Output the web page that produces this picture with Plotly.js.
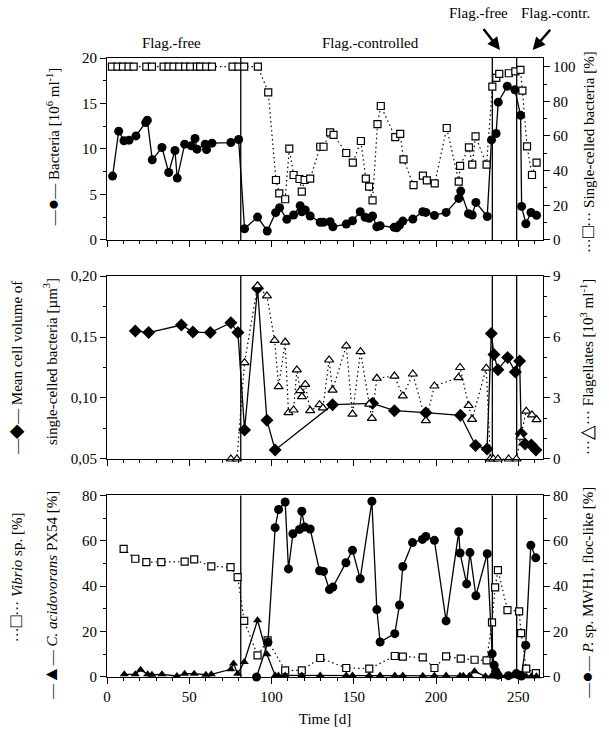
<!DOCTYPE html>
<html><head><meta charset="utf-8">
<script src="https://cdn.plot.ly/plotly-3.0.1.min.js"></script>
<style>html,body{margin:0;padding:0;background:#fff}</style>
</head><body><div id="chart" style="width:609px;height:740px"></div>
<script>
// ---------- Panel 1: Bacteria (left) and single-celled bacteria (right) ----------
const bactDays = [3.4, 7.1, 10.3, 13.4, 17.6, 23.5, 24.5, 27.5, 33.4, 37.5, 41.3, 42.7, 47.2, 51.2, 53.5, 54.7, 59.7, 60.5, 63.8, 75.3, 80.0, 83.6, 91.5, 97.4, 102.5, 104.9, 109.3, 113.4, 117.4, 118.4, 120.5, 123.5, 129.6, 131.6, 135.6, 137.3, 145.4, 149.2, 153.9, 156.9, 159.3, 161.4, 164.0, 166.0, 174.5, 176.1, 177.8, 179.8, 185.9, 191.9, 193.8, 199.0, 206.1, 213.8, 215.0, 219.7, 222.0, 224.2, 231.1, 233.7, 236.5, 237.8, 243.3, 247.9, 251.4, 252.0, 254.6, 257.7, 261.1];
const bacteria = [7.02, 11.96, 10.9, 10.97, 11.44, 12.9, 13.16, 8.81, 10.16, 7.42, 9.84, 6.8, 10.53, 10.35, 11.15, 9.98, 10.53, 9.95, 10.64, 10.71, 11.04, 1.24, 2.52, 0.99, 3.0, 3.55, 2.27, 2.74, 3.77, 3.1, 3.29, 2.63, 1.94, 1.94, 2.01, 1.46, 1.75, 2.12, 3.1, 2.49, 2.38, 2.63, 1.46, 1.57, 1.39, 1.35, 1.65, 2.08, 2.3, 3.1, 3.03, 2.7, 3.03, 4.57, 5.37, 2.89, 2.75, 4.13, 2.58, 11.0, 11.7, 15.15, 16.9, 16.5, 13.7, 3.69, 1.78, 3.02, 2.71];

const singleDays = [3.0, 6.4, 9.7, 13.1, 16.2, 23.9, 27.3, 34.4, 37.4, 40.4, 43.9, 47.5, 50.6, 54.6, 56.6, 60.3, 63.8, 76.3, 79.9, 83.4, 91.7, 98.0, 102.7, 104.7, 108.3, 110.8, 113.4, 117.0, 118.4, 120.1, 123.5, 129.6, 131.6, 135.6, 137.7, 145.4, 149.4, 154.3, 157.3, 159.3, 161.4, 164.4, 166.4, 175.2, 178.2, 180.2, 186.3, 192.0, 194.4, 199.2, 206.5, 213.8, 214.6, 220.0, 222.0, 224.0, 230.7, 234.2, 236.6, 238.4, 244.2, 248.2, 251.3, 252.5, 255.3, 258.3, 261.1];
const singleCelled = [100, 100, 100, 100, 100, 100, 100, 100, 100, 100, 100, 100, 100, 100, 100, 100, 100, 100, 100, 100, 100, 85.2, 34.6, 26.9, 23.5, 52.7, 37.5, 35.2, 27.9, 34.6, 35.4, 53.8, 53.8, 62.1, 60.6, 50.2, 44.6, 57.1, 35.4, 30.8, 22.9, 66.9, 77.3, 59.4, 61.2, 46.5, 31.7, 37.1, 34.4, 32.7, 64.6, 33.7, 42.8, 53.4, 43.5, 59.8, 43.5, 88.5, 93.5, 95.8, 96.2, 97.3, 98.1, 86.2, 54.0, 37.5, 44.6];

// ---------- Panel 2: Mean cell volume (left) and flagellates (right) ----------
const mcvDays = [17.2, 25.3, 45.2, 52.2, 62.8, 75.3, 79.6, 83.6, 91.5, 97.2, 102.2, 137.1, 161.4, 174.7, 193.8, 214.8, 224.0, 231.0, 233.6, 235.2, 237.6, 243.5, 248.2, 250.8, 251.8, 254.1, 257.9, 260.7];
const meanCellVolume = [0.155, 0.1536, 0.1598, 0.154, 0.1536, 0.1617, 0.1536, 0.0738, 0.19, 0.0817, 0.0574, 0.0945, 0.0956, 0.0896, 0.088, 0.0858, 0.061, 0.0582, 0.1528, 0.1356, 0.1232, 0.1331, 0.1213, 0.1303, 0.0706, 0.0623, 0.0615, 0.0574];

const flagDays = [75.3, 79.0, 83.6, 91.5, 97.2, 101.9, 104.3, 108.3, 110.3, 113.4, 115.4, 117.4, 118.5, 120.5, 123.5, 129.2, 131.2, 135.0, 137.1, 145.4, 149.2, 154.1, 159.4, 161.0, 164.0, 174.7, 179.8, 185.9, 193.8, 199.0, 213.6, 214.6, 219.8, 221.9, 230.5, 233.0, 234.8, 237.6, 244.1, 248.9, 251.3, 254.8, 258.3, 261.1];
const flagellates = [0, 0, 4.74, 8.52, 8.02, 5.83, 3.56, 5.75, 2.28, 2.41, 4.38, 3.36, 3.07, 3.67, 2.38, 2.67, 2.51, 4.87, 3.39, 5.56, 2.21, 5.28, 2.7, 2.0, 3.97, 4.08, 3.1, 4.18, 1.89, 3.59, 4.0, 4.5, 2.63, 1.95, 4.47, 0, 0, 0, 0, 0, 1.07, 2.35, 2.17, 1.94];

// ---------- Panel 3: Vibrio, C. acidovorans (left) and P. sp. MWH1 (right) ----------
const vibrioDays = [10.1, 17.2, 23.9, 33.0, 47.2, 53.0, 63.4, 75.1, 79.4, 83.4, 91.5, 97.6, 108.3, 118.4, 129.6, 145.4, 159.4, 174.9, 179.8, 191.9, 199.0, 206.1, 215.0, 223.4, 230.7, 234.0, 235.9, 237.6, 243.4, 250.5, 251.7, 254.8, 260.7];
const vibrio = [56.4, 52.1, 50.6, 50.6, 50.8, 51.8, 48.7, 48.4, 44.0, 24.7, 9.5, 16.1, 2.94, 2.94, 8.37, 3.96, 3.67, 9.25, 8.95, 8.66, 3.96, 9.1, 8.07, 7.6, 7.3, 24.1, 39.5, 47.1, 29.5, 28.9, 19.3, 3.65, 1.75];

const cacidDays = [10.5, 17.2, 20.4, 24.7, 27.3, 33.4, 42.5, 47.2, 53.0, 60.1, 63.4, 75.3, 76.9, 79.4, 83.4, 91.5, 97.2, 102.2, 104.2, 108.3, 118.4, 129.6, 145.4, 149.2, 159.4, 166.0, 174.9, 179.8, 191.9, 199.0, 206.1, 214.6, 216.6, 220.3, 223.4, 230.0, 233.6, 235.9, 237.6, 244.0, 248.6, 251.7, 254.8, 257.9, 261.0];
const cAcidovorans = [1.17, 1.17, 3.2, 1.17, 1.0, 1.17, 0.44, 1.47, 1.47, 1.0, 1.17, 3.4, 5.9, 1.47, 6.6, 25.0, 10.0, 0.7, 0.7, 0.7, 0.7, 0.7, 0.7, 0.7, 0.7, 0.7, 0.7, 0.7, 0.5, 0.5, 0.7, 0.5, 0.5, 0.5, 2.5, 0.3, 0.3, 0.3, 0.3, 0.3, 0.3, 0.3, 0.3, 0.3, 0.3];

const pspDays = [90.9, 97.8, 102.2, 104.3, 108.3, 110.3, 113.0, 117.0, 118.4, 120.1, 123.5, 129.2, 131.6, 135.2, 137.3, 145.2, 149.2, 153.9, 161.0, 164.0, 166.0, 174.9, 177.8, 179.8, 185.7, 191.7, 193.8, 199.0, 206.1, 213.8, 214.6, 218.6, 220.6, 224.2, 231.1, 234.1, 235.3, 236.3, 237.7, 244.0, 248.8, 250.5, 251.9, 254.5, 257.6, 260.6];
const pspFlocLike = [0, 15.3, 65.8, 73.8, 77.1, 47.6, 63.1, 65.0, 73.0, 66.1, 65.2, 46.8, 46.5, 38.5, 39.6, 50.3, 55.8, 43.3, 77.4, 29.7, 15.4, 19.1, 31.7, 48.7, 59.2, 60.6, 61.9, 60.2, 24.7, 64.0, 54.6, 41.0, 54.8, 35.8, 54.3, 10.2, 5.2, 2.5, 0.8, 0.6, 1.5, 0.8, 0.4, 14.0, 58.0, 52.5];

// Phase boundaries (days)
const phaseBoundaries = [81.3, 234.2, 249.0];
const xTickVals = [0, 50, 100, 150, 200, 250];

// ---------- styling ----------
const FONT = 'Liberation Serif';
const BLACK = '#000';
const DOT = '1.5px,3px';

function solidTrace(x, y, xa, ya, symbol, size) {
  return {x, y, xaxis: xa, yaxis: ya, type: 'scatter', mode: 'lines+markers', cliponaxis: false,
    line: {color: BLACK, width: 1.3},
    marker: {symbol, size, color: BLACK, line: {color: BLACK, width: 0}}, hoverinfo: 'x+y'};
}
function dottedTrace(x, y, xa, ya, symbol, size) {
  return {x, y, xaxis: xa, yaxis: ya, type: 'scatter', mode: 'lines+markers', cliponaxis: false,
    line: {color: BLACK, width: 1.2, dash: DOT},
    marker: {symbol, size, color: '#fff', line: {color: BLACK, width: 1.2}}, hoverinfo: 'x+y'};
}

const data = [
  dottedTrace(singleDays, singleCelled, 'x', 'y2', 'square', 7),
  solidTrace(bactDays, bacteria, 'x', 'y', 'circle', 9),
  dottedTrace(flagDays, flagellates, 'x2', 'y4', 'triangle-up', 8),
  solidTrace(mcvDays, meanCellVolume, 'x2', 'y3', 'diamond', 10),
  dottedTrace(vibrioDays, vibrio, 'x3', 'y5', 'square', 7),
  solidTrace(cacidDays, cAcidovorans, 'x3', 'y5', 'triangle-up', 8),
  solidTrace(pspDays, pspFlocLike, 'x3', 'y6', 'circle', 9)
];

const tickFont = {family: FONT, size: 15, color: BLACK};
function xAxis(anchor, labels) {
  return {range: [0, 265], tickvals: xTickVals, ticks: 'outside', ticklen: 6, tickwidth: 1, tickcolor: BLACK,
    minor: {dtick: 10, ticks: 'outside', ticklen: 3, tickwidth: 1, tickcolor: BLACK, showgrid: false},
    showline: true, linecolor: BLACK, linewidth: 1, mirror: true, showgrid: false, zeroline: false,
    showticklabels: labels, tickfont: tickFont, anchor, fixedrange: true};
}
function yAxis(opts) {
  return Object.assign({ticks: 'outside', ticklen: 6, tickwidth: 1, tickcolor: BLACK,
    showline: true, linecolor: BLACK, linewidth: 1, showgrid: false, zeroline: false,
    tickfont: tickFont, fixedrange: true}, opts);
}

const D1 = [0.706, 1], D2 = [0.3522, 0.6478], D3 = [0, 0.2934];

const layout = {
  width: 609, height: 740,
  margin: {l: 107, r: 66, t: 58, b: 63},
  paper_bgcolor: '#fff', plot_bgcolor: '#fff',
  separators: ', ',
  showlegend: false,
  font: {family: FONT, size: 15, color: BLACK},
  xaxis: xAxis('y', false),
  xaxis2: xAxis('y3', false),
  xaxis3: Object.assign(xAxis('y5', true), {title: {text: 'Time [d]', font: {family: FONT, size: 15, color: BLACK}, standoff: 9}}),
  yaxis: yAxis({domain: D1, range: [0, 20], dtick: 5, anchor: 'x',
    minor: {dtick: 2.5, ticks: 'outside', ticklen: 3, tickcolor: BLACK, showgrid: false}}),
  yaxis2: yAxis({overlaying: 'y', side: 'right', anchor: 'x', range: [0, 105], dtick: 20,
    minor: {dtick: 10, ticks: 'outside', ticklen: 3, tickcolor: BLACK, showgrid: false}}),
  yaxis3: yAxis({domain: D2, range: [0.05, 0.20], tick0: 0.05, dtick: 0.05, tickformat: '.2f', anchor: 'x2',
    minor: {dtick: 0.025, ticks: 'outside', ticklen: 3, tickcolor: BLACK, showgrid: false}}),
  yaxis4: yAxis({overlaying: 'y3', side: 'right', anchor: 'x2', range: [0, 9], dtick: 3,
    minor: {dtick: 1, ticks: 'outside', ticklen: 3, tickcolor: BLACK, showgrid: false}}),
  yaxis5: yAxis({domain: D3, range: [0, 80], dtick: 20, anchor: 'x3',
    minor: {dtick: 10, ticks: 'outside', ticklen: 3, tickcolor: BLACK, showgrid: false}}),
  yaxis6: yAxis({overlaying: 'y5', side: 'right', anchor: 'x3', range: [0, 80], dtick: 20,
    minor: {dtick: 10, ticks: 'outside', ticklen: 3, tickcolor: BLACK, showgrid: false}}),
  shapes: [],
  annotations: []
};

// vertical phase-boundary lines in every panel
[['x', 'y domain'], ['x2', 'y3 domain'], ['x3', 'y5 domain']].forEach(([xr, yr]) => {
  phaseBoundaries.forEach(d => {
    layout.shapes.push({type: 'line', xref: xr, yref: yr, x0: d, x1: d, y0: 0, y1: 1,
      line: {color: BLACK, width: 1.3}, layer: 'below'});
  });
});

const ann = (text, x, y, extra) => Object.assign({text, x, y, xref: 'paper', yref: 'paper',
  showarrow: false, xanchor: 'center', yanchor: 'middle', font: {family: FONT, size: 15, color: BLACK}}, extra || {});
const sym = s => '<span style="font-size:19px">' + s + '</span>';

layout.annotations.push(
  ann('Flag.-free', 0.148, 1.024),
  ann('Flag.-controlled', 0.604, 1.024),
  ann('Flag.-free', 0.851, 1.073),
  ann('Flag.-contr.', 1.028, 1.073),
  // arrows
  {text: ' ', x: 0.9014, y: 1.0129, xref: 'paper', yref: 'paper', showarrow: true,
    ax: -18, ay: -23, arrowhead: 2, arrowsize: 1, arrowwidth: 2.5, arrowcolor: BLACK, standoff: 0,
    font: {size: 1}},
  {text: ' ', x: 0.9764, y: 1.0129, xref: 'paper', yref: 'paper', showarrow: true,
    ax: 19, ay: -22, arrowhead: 2, arrowsize: 1, arrowwidth: 2.5, arrowcolor: BLACK, standoff: 0,
    font: {size: 1}},
  // left axis titles
  ann('—' + sym('●') + '— Bacteria [10<sup>6</sup> ml<sup>-1</sup>]', -0.126, 0.856, {textangle: -90}),
  ann('—' + sym('◆') + '— Mean cell volume of', -0.21, 0.50, {textangle: -90}),
  ann('single-celled bacteria [µm<sup>3</sup>]', -0.129, 0.510, {textangle: -90}),
  ann('···' + sym('□') + '··· <i>Vibrio</i> sp. [%]', -0.21, 0.162, {textangle: -90}),
  ann('—' + sym('▲') + '— <i>C. acidovorans</i> PX54 [%]', -0.129, 0.132, {textangle: -90}),
  // right axis titles
  ann('···' + sym('□') + '··· Single-celled bacteria [%]', 1.101, 0.848, {textangle: -90}),
  ann('···' + sym('△') + '··· Flagellates [10<sup>3</sup> ml<sup>-1</sup>]', 1.101, 0.501, {textangle: -90}),
  ann('—' + sym('●') + '— <i>P.</i> sp. MWH1, floc-like [%]', 1.101, 0.136, {textangle: -90})
);

Plotly.newPlot('chart', data, layout, {displayModeBar: false, staticPlot: true});
</script></body></html>
